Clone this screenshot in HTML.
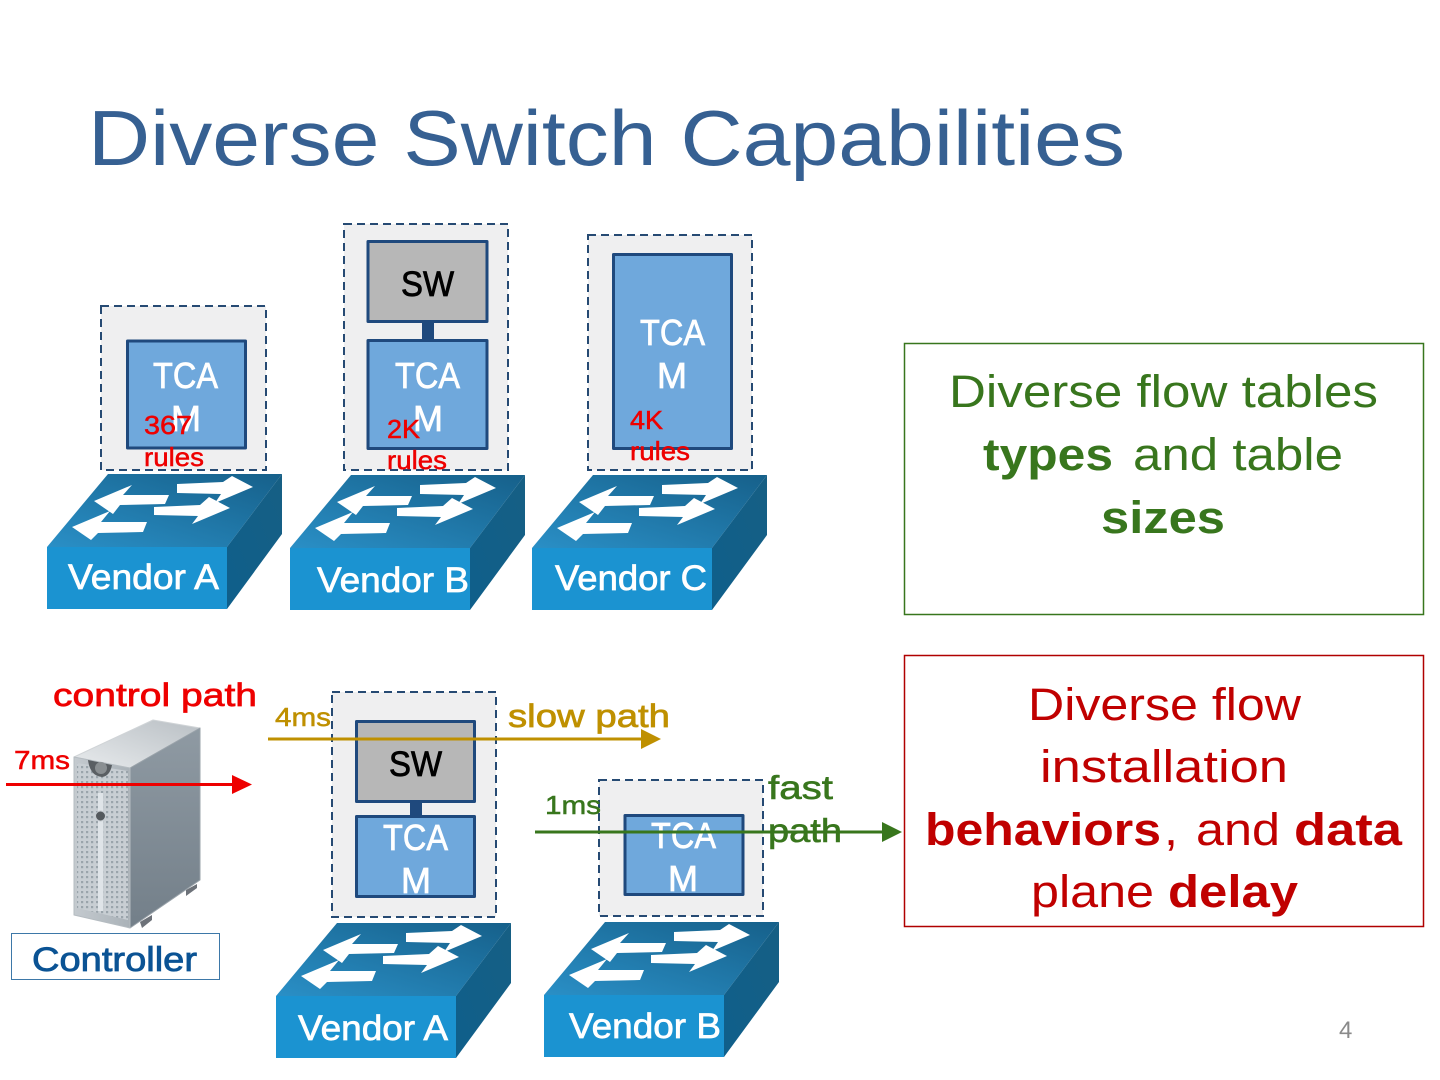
<!DOCTYPE html>
<html><head><meta charset="utf-8">
<style>
html,body{margin:0;padding:0;background:#fff;width:1440px;height:1080px;overflow:hidden}
svg{display:block}
text{font-family:"Liberation Sans",sans-serif}
.tc{fill:#fff;font-size:36px;stroke:#fff;stroke-width:.7}
.v{fill:#fff;font-size:35px;stroke:#fff;stroke-width:.7}
.r{fill:#ee0000;font-size:26px;stroke:#ee0000;stroke-width:.5}
.g{fill:#38761d}
.d{fill:#c00000}
.b{font-weight:bold}
</style></head><body>
<svg width="1440" height="1080" viewBox="0 0 1440 1080" xmlns="http://www.w3.org/2000/svg">
<defs>
<linearGradient id="top" x1="0" y1="1" x2="1" y2="0"><stop offset="0" stop-color="#2a8fc6"/><stop offset="1" stop-color="#16608a"/></linearGradient>
<linearGradient id="side" x1="0" y1="1" x2="1" y2="0"><stop offset="0" stop-color="#0f5f8b"/><stop offset="1" stop-color="#165f84"/></linearGradient>
<linearGradient id="srvF" x1="0" y1="0" x2="1" y2="0"><stop offset="0" stop-color="#c4cacf"/><stop offset="1" stop-color="#aab2b8"/></linearGradient>
<linearGradient id="srvS" x1="0" y1="0" x2="0" y2="1"><stop offset="0" stop-color="#8f9aa3"/><stop offset="1" stop-color="#737f89"/></linearGradient>
<linearGradient id="srvT" x1="0" y1="1" x2="1" y2="0"><stop offset="0" stop-color="#e8ebed"/><stop offset="1" stop-color="#b9bfc4"/></linearGradient>
<pattern id="dots" width="5" height="5" patternUnits="userSpaceOnUse"><rect width="5" height="5" fill="#c8ced3"/><rect x="1" y="1" width="2.200" height="2.200" fill="#9aa4ab"/></pattern>
<g id="sw">
<polygon points="0,73 61,0 235,0 180,73" fill="url(#top)"/>
<polygon points="180,73 235,0 235,60 180,135" fill="url(#side)"/>
<rect x="0" y="73" width="180" height="62" fill="#1b93d1"/>
<g fill="#fff">
<polygon points="130,10 176,8 185,2 206,13 168,29 174,20 130,19"/>
<polygon points="107,33 153,31 162,23 183,34 145,50 151,42 107,41"/>
<polygon points="47,27 85,11 76,21 122,21 118,30 73,31 66,40"/>
<polygon points="25,53 63,37 54,48 100,48 96,58 51,59 44,66"/>
</g>
</g>
</defs>
<rect width="1440" height="1080" fill="#fff"/>

<text x="88" y="165" font-size="78" fill="#366092" textLength="1037" lengthAdjust="spacingAndGlyphs">Diverse Switch Capabilities</text>

<!-- dashed containers -->
<g fill="#efeff0" stroke="#264a73" stroke-width="2" stroke-dasharray="8 5">
<rect x="101" y="306" width="165" height="164"/>
<rect x="344" y="224" width="164" height="246"/>
<rect x="588" y="235" width="164" height="235"/>
<rect x="332" y="692" width="164" height="225"/>
<rect x="599" y="780" width="164" height="136"/>
</g>

<!-- connectors between SW and TCAM -->
<rect x="422" y="320" width="12" height="22" fill="#1f497d"/>
<rect x="410" y="800" width="12" height="18" fill="#1f497d"/>

<!-- boxes -->
<g stroke="#1f497d" stroke-width="3" stroke-linejoin="round">
<rect x="127.500" y="341" width="118" height="107" fill="#6fa8dc"/>
<rect x="368" y="241.500" width="119" height="80" fill="#b7b7b7"/>
<rect x="368" y="340.500" width="119" height="108" fill="#6fa8dc"/>
<rect x="613.500" y="254.500" width="118" height="194" fill="#6fa8dc"/>
<rect x="356.500" y="721.500" width="118" height="80" fill="#b7b7b7"/>
<rect x="356.500" y="816.500" width="118" height="80" fill="#6fa8dc"/>
<rect x="625" y="815.500" width="118" height="79" fill="#6fa8dc"/>
</g>

<!-- box text -->
<text class="tc" x="153" y="388" textLength="65" lengthAdjust="spacingAndGlyphs">TCA</text>
<text class="tc" x="171" y="431" textLength="30" lengthAdjust="spacingAndGlyphs">M</text>
<text class="tc" x="395" y="388" textLength="65" lengthAdjust="spacingAndGlyphs">TCA</text>
<text class="tc" x="413" y="431" textLength="30" lengthAdjust="spacingAndGlyphs">M</text>
<text class="tc" x="640" y="345" textLength="65" lengthAdjust="spacingAndGlyphs">TCA</text>
<text class="tc" x="657" y="388" textLength="30" lengthAdjust="spacingAndGlyphs">M</text>
<text class="tc" x="383" y="850" textLength="65" lengthAdjust="spacingAndGlyphs">TCA</text>
<text class="tc" x="401" y="893" textLength="30" lengthAdjust="spacingAndGlyphs">M</text>
<text class="tc" x="651" y="848" textLength="65" lengthAdjust="spacingAndGlyphs">TCA</text>
<text class="tc" x="668" y="891" textLength="30" lengthAdjust="spacingAndGlyphs">M</text>
<text x="401" y="296" font-size="35" fill="#000" stroke="#000" stroke-width=".8" textLength="53" lengthAdjust="spacingAndGlyphs">SW</text>
<text x="389" y="776" font-size="35" fill="#000" stroke="#000" stroke-width=".8" textLength="53" lengthAdjust="spacingAndGlyphs">SW</text>

<!-- rules -->
<text class="r" x="144" y="434" textLength="48" lengthAdjust="spacingAndGlyphs">367</text>
<text class="r" x="144" y="466" textLength="60" lengthAdjust="spacingAndGlyphs">rules</text>
<text class="r" x="387" y="438" textLength="33" lengthAdjust="spacingAndGlyphs">2K</text>
<text class="r" x="387" y="469" textLength="60" lengthAdjust="spacingAndGlyphs">rules</text>
<text class="r" x="630" y="429" textLength="33" lengthAdjust="spacingAndGlyphs">4K</text>
<text class="r" x="630" y="460" textLength="60" lengthAdjust="spacingAndGlyphs">rules</text>

<!-- switches -->
<use href="#sw" x="47" y="474"/>
<use href="#sw" x="290" y="475"/>
<use href="#sw" x="532" y="475"/>
<use href="#sw" x="276" y="923"/>
<use href="#sw" x="544" y="922"/>
<text class="v" x="68" y="589" textLength="151" lengthAdjust="spacingAndGlyphs">Vendor A</text>
<text class="v" x="317" y="592" textLength="152" lengthAdjust="spacingAndGlyphs">Vendor B</text>
<text class="v" x="555" y="590" textLength="152" lengthAdjust="spacingAndGlyphs">Vendor C</text>
<text class="v" x="298" y="1040" textLength="150" lengthAdjust="spacingAndGlyphs">Vendor A</text>
<text class="v" x="569" y="1038" textLength="152" lengthAdjust="spacingAndGlyphs">Vendor B</text>

<!-- right panels -->
<rect x="904.500" y="343.500" width="519" height="271" fill="#fff" stroke="#38761d" stroke-width="1.500"/>
<rect x="904.500" y="655.500" width="519" height="271" fill="#fff" stroke="#b00000" stroke-width="1.500"/>
<g font-size="45">
<text class="g" x="949" y="407" textLength="429" lengthAdjust="spacingAndGlyphs">Diverse flow tables</text>
<text class="g b" x="983" y="470" textLength="130" lengthAdjust="spacingAndGlyphs">types</text>
<text class="g" x="1133" y="470" textLength="210" lengthAdjust="spacingAndGlyphs">and table</text>
<text class="g b" x="1101" y="533" textLength="124" lengthAdjust="spacingAndGlyphs">sizes</text>
<text class="d" x="1028" y="720" textLength="273" lengthAdjust="spacingAndGlyphs">Diverse flow</text>
<text class="d" x="1040" y="782" textLength="248" lengthAdjust="spacingAndGlyphs">installation</text>
<text class="d b" x="925" y="845" textLength="236" lengthAdjust="spacingAndGlyphs">behaviors</text>
<text class="d" x="1164" y="845" textLength="14" lengthAdjust="spacingAndGlyphs">,</text>
<text class="d" x="1196" y="845" textLength="84" lengthAdjust="spacingAndGlyphs">and</text>
<text class="d b" x="1294" y="845" textLength="108" lengthAdjust="spacingAndGlyphs">data</text>
<text class="d" x="1031" y="907" textLength="123" lengthAdjust="spacingAndGlyphs">plane</text>
<text class="d b" x="1168" y="907" textLength="130" lengthAdjust="spacingAndGlyphs">delay</text>
</g>

<!-- server -->
<polygon points="140,922 152,915 152,920 142,928" fill="#6d7279"/>
<polygon points="186,890 197,884 197,888 186,896" fill="#6d7279"/>
<polygon points="74,757 153,720 200,728 130,768" fill="url(#srvT)" stroke="#d0d4d7" stroke-linejoin="round"/>
<polygon points="130,768 200,728 200,880 130,928" fill="url(#srvS)" stroke="#9aa3aa" stroke-width="1" stroke-linejoin="round"/>
<polygon points="74,757 130,768 130,928 74,915" fill="url(#srvF)" stroke="#b5bcc1" stroke-linejoin="round"/>
<polygon points="77,763 128,771 128,920 77,908" fill="url(#dots)"/>
<path d="M88,760 Q90,776 102,777 Q110,776 112,765 Z" fill="#5a5f63"/>
<circle cx="101" cy="768" r="6" fill="#8a8f92"/>
<rect x="98" y="793" width="5" height="118" fill="#dfe4e8"/>
<circle cx="100.500" cy="816" r="5" fill="#54595d" stroke="#c5cbd0"/>

<!-- controller -->
<rect x="11.500" y="933.500" width="208" height="46" fill="#fff" stroke="#3d78a8" stroke-width="1"/>
<text x="32" y="971" font-size="34" fill="#0b5394" stroke="#0b5394" stroke-width=".8" textLength="165" lengthAdjust="spacingAndGlyphs">Controller</text>

<!-- control path -->
<text x="53" y="706" font-size="32" fill="#ee0000" stroke="#ee0000" stroke-width=".7" textLength="204" lengthAdjust="spacingAndGlyphs">control path</text>
<text class="r" x="14" y="769" textLength="56" lengthAdjust="spacingAndGlyphs">7ms</text>
<line x1="6" y1="784.500" x2="234" y2="784.500" stroke="#ee0000" stroke-width="3"/>
<polygon points="232,775 252,784.500 232,794" fill="#ee0000"/>

<!-- slow path -->
<text x="275" y="726" font-size="26" fill="#bf9000" stroke="#bf9000" stroke-width=".5" textLength="56" lengthAdjust="spacingAndGlyphs">4ms</text>
<text x="508" y="727" font-size="32" fill="#bf9000" stroke="#bf9000" stroke-width=".7" textLength="162" lengthAdjust="spacingAndGlyphs">slow path</text>
<line x1="268" y1="739" x2="642" y2="739" stroke="#bf9000" stroke-width="3"/>
<polygon points="641,729 661,739 641,749" fill="#bf9000"/>

<!-- fast path -->
<text class="g" x="545" y="814" font-size="26" stroke="#38761d" stroke-width=".5" textLength="56" lengthAdjust="spacingAndGlyphs">1ms</text>
<text class="g" x="768" y="799" font-size="33" stroke="#38761d" stroke-width=".6" textLength="65" lengthAdjust="spacingAndGlyphs">fast</text>
<text class="g" x="768" y="842" font-size="33" stroke="#38761d" stroke-width=".6" textLength="74" lengthAdjust="spacingAndGlyphs">path</text>
<line x1="535" y1="832" x2="884" y2="832" stroke="#38761d" stroke-width="3"/>
<polygon points="882,822 902,832 882,842" fill="#38761d"/>

<text x="1339" y="1038" font-size="24" fill="#8a8a8a">4</text>
</svg>
</body></html>
